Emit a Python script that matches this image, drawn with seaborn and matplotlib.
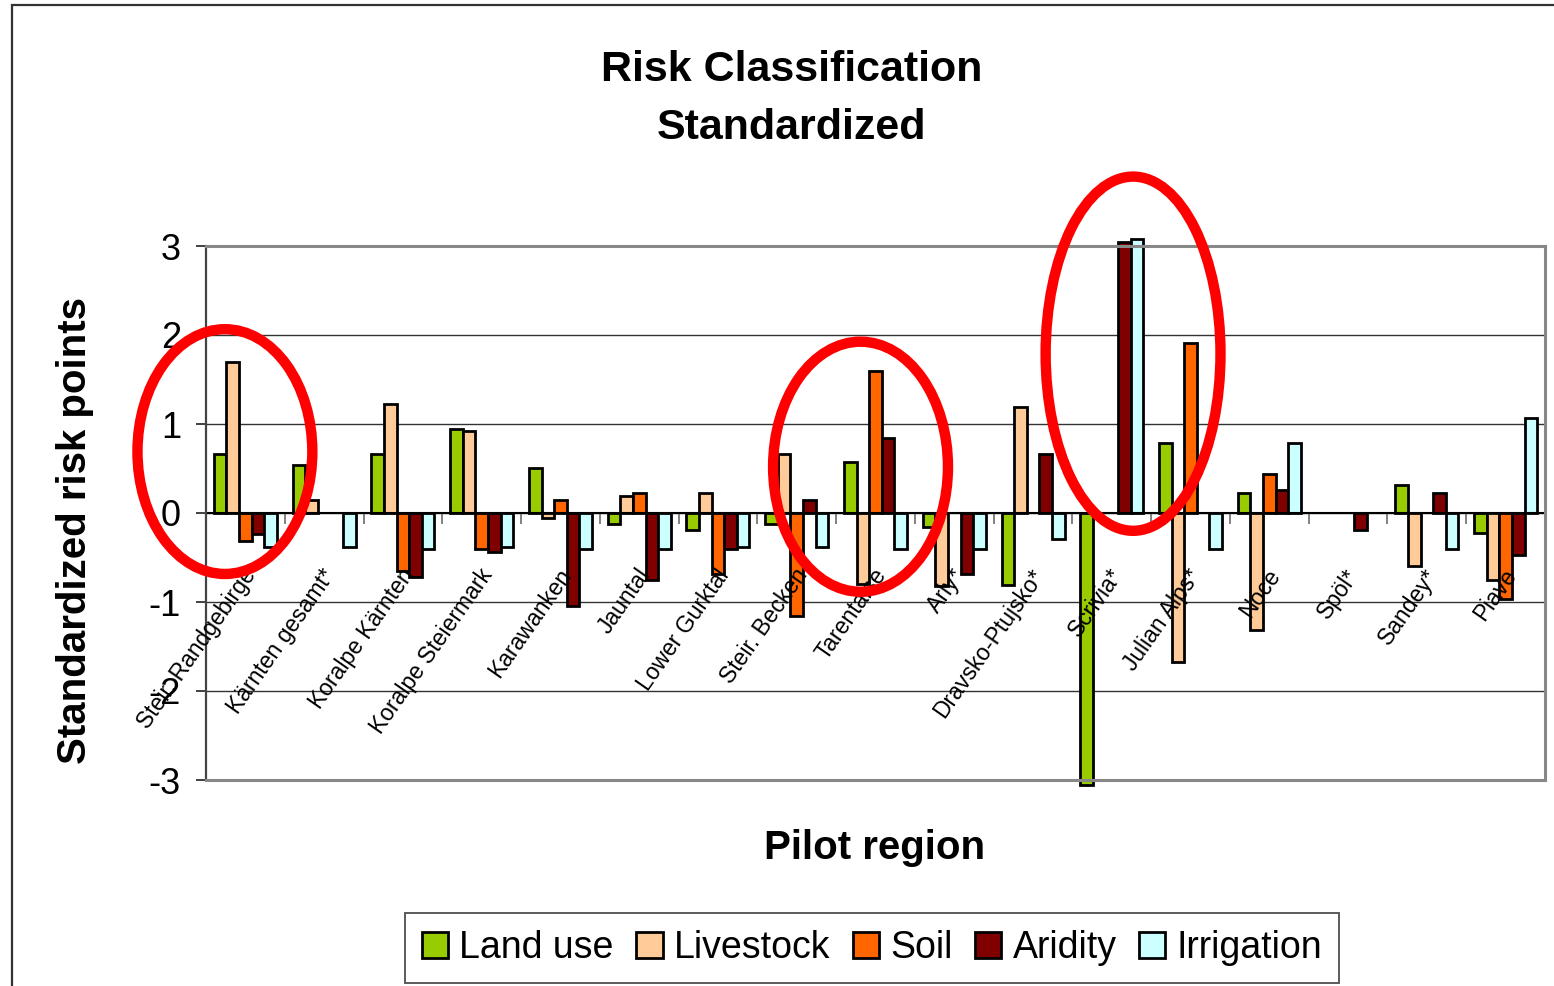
import numpy as np
import pandas as pd
import matplotlib
matplotlib.use("Agg")
import matplotlib.pyplot as plt
from matplotlib.patches import Ellipse, Rectangle, Patch
import seaborn as sns

# ---- data -------------------------------------------------------------
regions = ["Steir. Randgebirge", "Kärnten gesamt*", "Koralpe Kärnten",
           "Koralpe Steiermark", "Karawanken", "Jauntal", "Lower Gurktal",
           "Steir. Becken", "Tarentaise", "Arly*", "Dravsko-Ptujsko*",
           "Scrivia*", "Julian Alps*", "Noce", "Spöl*", "Sandey*", "Piave"]
series = ["Land use", "Livestock", "Soil", "Aridity", "Irrigation"]
nan = np.nan
land_use   = [0.66, 0.54, 0.66, 0.94, 0.51, -0.12, -0.19, -0.12, 0.57, -0.16,
              -0.81, -3.06, 0.79, 0.23, nan, 0.32, -0.22]
livestock  = [1.70, 0.15, 1.23, 0.92, -0.06, 0.19, 0.22, 0.66, -0.80, -0.82,
              1.19, nan, -1.67, -1.31, nan, -0.60, -0.75]
soil       = [-0.31, nan, -0.65, -0.41, 0.15, 0.22, -0.69, -1.16, 1.60, nan,
              nan, nan, 1.91, 0.44, nan, nan, -0.97]
aridity    = [-0.24, nan, -0.72, -0.44, -1.04, -0.75, -0.41, 0.15, 0.84, -0.69,
              0.66, 3.05, nan, 0.26, -0.19, 0.23, -0.47]
irrigation = [-0.38, -0.38, -0.41, -0.38, -0.41, -0.41, -0.38, -0.38, -0.41, -0.41,
              -0.29, 3.08, -0.41, 0.79, nan, -0.41, 1.07]
y_ticks = [3, 2, 1, 0, -1, -2, -3]
colors = ["#99CC00", "#FFCC99", "#FF6600", "#800000", "#CCFFFF"]

values = [land_use, livestock, soil, aridity, irrigation]
df = pd.DataFrame({
    "region": np.tile(regions, len(series)),
    "series": np.repeat(series, len(regions)),
    "value": np.concatenate(values),
})

# ---- figure -----------------------------------------------------------
sns.set_theme(style="white")
plt.rcParams["font.family"] = ["Liberation Sans", "DejaVu Sans"]
plt.rcParams.update({"text.color": "black", "axes.labelcolor": "black",
                     "xtick.color": "black", "ytick.color": "black"})

W, H = 1554, 986
fig = plt.figure(figsize=(W / 100, H / 100), dpi=100)
ax = fig.add_axes([206 / W, 1 - 780 / H, (1545 - 206) / W, (780 - 246) / H])

sns.barplot(data=df, x="region", y="value", hue="series", order=regions,
            hue_order=series, palette=colors, edgecolor="black", linewidth=2.0,
            width=0.8, errorbar=None, legend=False, saturation=1, ax=ax)
for p in ax.patches:
    p.set_clip_on(False)

n = len(regions)
ax.set_xlim(-0.5, n - 0.5)
ax.set_ylim(-3, 3)
ax.set_xlabel("")
ax.set_ylabel("")

# y axis
ax.set_yticks(y_ticks)
ax.set_yticklabels([str(t) for t in y_ticks], fontsize=26)
ax.tick_params(axis="y", direction="out", length=7, width=1.3, color="#333333",
               pad=11, left=True, labelcolor="black")
ax.yaxis.grid(True, color="#333333", linewidth=1.0)
ax.set_axisbelow(True)

# plot-area border
for side in ["top", "right", "bottom"]:
    ax.spines[side].set_color("#888888")
    ax.spines[side].set_linewidth(2.2)
ax.spines["left"].set_color("#444444")
ax.spines["left"].set_linewidth(1.6)

# category axis at zero with ticks between groups
ax.axhline(0, color="black", linewidth=1.5, zorder=1.5)
ax.set_xticks([i - 0.5 for i in range(1, n)])
ax.set_xticklabels([])
ax.tick_params(axis="x", bottom=False)
ax.vlines([i - 0.5 for i in range(1, n)], 0, -0.12, color="#777777",
          linewidth=1.3, zorder=1.4)

for i, name in enumerate(regions):
    ax.text(i - 0.04, -0.58, name, rotation=55, rotation_mode="anchor",
            ha="right", va="top", fontsize=16.5, color="black", zorder=5)

# highlighting ellipses
for (cx, cy, w, h) in [(-0.26, 0.69, 2.22, 2.75), (7.81, 0.52, 2.22, 2.81),
                       (11.27, 1.79, 2.22, 3.98)]:
    ax.add_patch(Ellipse((cx, cy), w, h, fill=False, edgecolor="#FF0000",
                         linewidth=7.5, clip_on=False, zorder=10))

# titles
fig.text(792 / W, 1 - 99 / H, "Risk Classification\nStandardized", ha="center",
         va="center", fontsize=31, fontweight="bold", linespacing=1.6)
fig.text(875 / W, 1 - 848 / H, "Pilot region", ha="center", va="center",
         fontsize=29, fontweight="bold")
fig.text(75 / W, 1 - 531 / H, "Standardized risk points", ha="center",
         va="center", rotation=90, fontsize=29, fontweight="bold")

# legend
handles = [Patch(facecolor=c, edgecolor="black", linewidth=2.0) for c in colors]
leg = fig.legend(handles, series, loc="center", bbox_to_anchor=(872 / W, 1 - 948 / H),
                 ncol=5, fontsize=27, frameon=True, fancybox=False,
                 edgecolor="#222222", handlelength=0.7, handleheight=0.7,
                 handletextpad=0.3, columnspacing=0.6, borderpad=0.45)
leg.get_frame().set_linewidth(1.3)

# chart-area frame
fig.patches.append(Rectangle((12 / W, -0.1), 1.2, 1 - 5 / H + 0.1,
                             transform=fig.transFigure, fill=False,
                             edgecolor="#333333", linewidth=1.6))

fig.savefig("out.png", dpi=100)
